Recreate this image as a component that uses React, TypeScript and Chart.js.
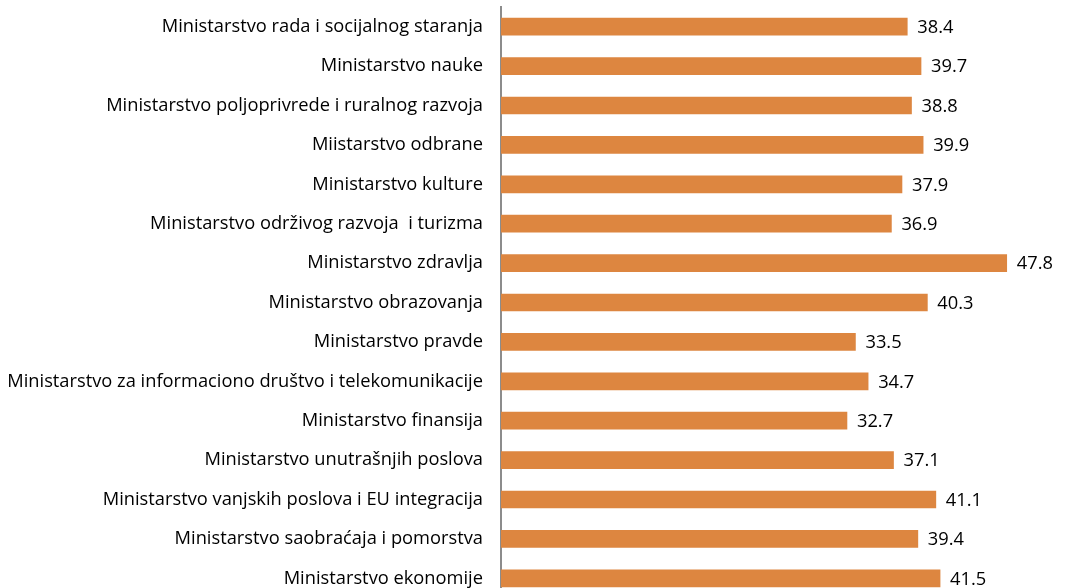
import React, { useEffect, useRef } from "react";
import { Chart, registerables } from "chart.js";

Chart.register(...registerables);

const categories: string[] = [
  "Ministarstvo rada i socijalnog staranja",
  "Ministarstvo nauke",
  "Ministarstvo poljoprivrede i ruralnog razvoja",
  "Miistarstvo odbrane",
  "Ministarstvo kulture",
  "Ministarstvo održivog razvoja  i turizma",
  "Ministarstvo zdravlja",
  "Ministarstvo obrazovanja",
  "Ministarstvo pravde",
  "Ministarstvo za informaciono društvo i telekomunikacije",
  "Ministarstvo finansija",
  "Ministarstvo unutrašnjih poslova",
  "Ministarstvo vanjskih poslova i EU integracija",
  "Ministarstvo saobraćaja i pomorstva",
  "Ministarstvo ekonomije",
];

const values: number[] = [38.4, 39.7, 38.8, 39.9, 37.9, 36.9, 47.8, 40.3, 33.5, 34.7, 32.7, 37.1, 41.1, 39.4, 41.5];

const FONT = "'Open Sans', sans-serif";
const FONT_SIZE = 18.3;

const valueLabels = {
  id: "valueLabels",
  afterDatasetsDraw(chart: any) {
    const ctx = chart.ctx;
    const meta = chart.getDatasetMeta(0);
    ctx.save();
    ctx.font = `${FONT_SIZE}px ${FONT}`;
    ctx.fillStyle = "#000";
    ctx.textAlign = "left";
    ctx.textBaseline = "middle";
    meta.data.forEach((bar: any, i: number) => {
      ctx.fillText(values[i].toFixed(1), bar.x + 10, bar.y + 1);
    });
    ctx.restore();
  },
};

export default function App() {
  const ref = useRef<HTMLCanvasElement>(null);
  useEffect(() => {
    if (!ref.current) return;
    const chart = new Chart(ref.current, {
      type: "bar",
      data: {
        labels: categories,
        datasets: [
          {
            data: values,
            backgroundColor: "#DD8640",
            borderWidth: 0,
            barThickness: 17,
          },
        ],
      },
      options: {
        indexAxis: "y",
        responsive: false,
        animation: false,
        layout: { padding: { top: 7, bottom: 2, right: 35, left: 0 } },
        plugins: { legend: { display: false }, tooltip: { enabled: false } },
        scales: {
          x: {
            min: 0,
            max: 50,
            display: false,
          },
          y: {
            grid: { display: false, drawTicks: false },
            border: { display: true, color: "#8c8c8c", width: 2 },
            ticks: {
              color: "#000",
              font: { family: FONT, size: FONT_SIZE },
              padding: 18,
              autoSkip: false,
            },
            afterFit: (scale: any) => {
              scale.width = 501;
              scale.paddingTop = 0;
              scale.paddingBottom = 0;
            },
          },
        },
      },
      plugins: [valueLabels],
    });
    return () => chart.destroy();
  }, []);
  return (
    <div style={{ position: "fixed", left: 0, top: 0, width: 1065, height: 588, overflow: "hidden", background: "#fff" }}>
      <canvas ref={ref} width={1065} height={600} style={{ display: "block" }} />
    </div>
  );
}
